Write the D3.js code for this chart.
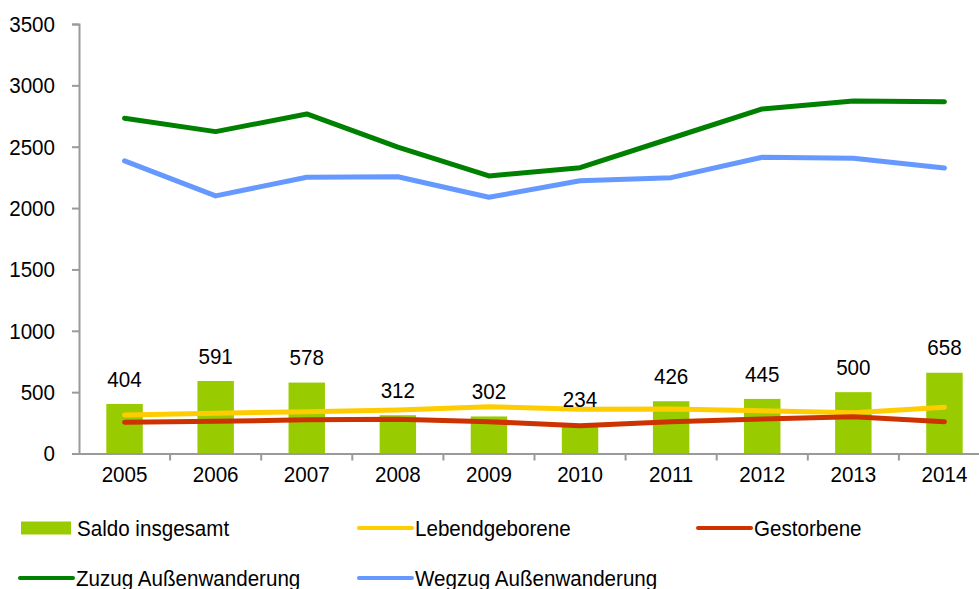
<!DOCTYPE html>
<html>
<head>
<meta charset="utf-8">
<script src="https://cdn.jsdelivr.net/npm/d3@7"></script>
<style>
  body { margin: 0; background: #fff; }
  svg { display: block; font-family: "Liberation Sans", Arial, sans-serif; }
  /* the source text is slightly taller than it is wide */
  svg text { transform-box: fill-box; transform-origin: center; transform: scaleY(1.1); }
</style>
</head>
<body>
<svg width="979" height="589"></svg>
<script>
// Data
const years = ["2005", "2006", "2007", "2008", "2009", "2010", "2011", "2012", "2013", "2014"];
const saldo = [404, 591, 578, 312, 302, 234, 426, 445, 500, 658];
const lebendgeborene = [314, 328, 341, 355, 381, 360, 363, 349, 333, 377];
const gestorbene = [254, 262, 275, 280, 259, 227, 259, 281, 300, 259];
const zuzug = [2732, 2623, 2767, 2496, 2262, 2329, 2569, 2808, 2873, 2867];
const wegzug = [2384, 2099, 2251, 2255, 2088, 2223, 2248, 2414, 2406, 2327];
const yTicks = [0, 500, 1000, 1500, 2000, 2500, 3000, 3500];

const lineSeries = [
    { name: "Lebendgeborene", values: lebendgeborene, color: "#ffcc00" },
    { name: "Gestorbene", values: gestorbene, color: "#cc3300" },
    { name: "Zuzug Außenwanderung", values: zuzug, color: "#008000" },
    { name: "Wegzug Außenwanderung", values: wegzug, color: "#6699ff" }
];

const svg = d3.select("svg");
const plotLeft = 79, plotRight = 990, plotTop = 24, plotBottom = 453.5;
const fontSize = 20.6;

const x = d3.scaleBand().domain(years).range([plotLeft, plotRight]).paddingInner(0).paddingOuter(0);
const y = d3.scaleLinear().domain([0, 3500]).range([plotBottom, plotTop]);
const cx = d => x(d) + x.bandwidth() / 2;

// bars
const barW = x.bandwidth() * 0.4;
svg.append("g").selectAll("rect")
    .data(years)
    .join("rect")
    .attr("x", d => cx(d) - barW / 2)
    .attr("y", (d, i) => y(saldo[i]))
    .attr("width", barW)
    .attr("height", (d, i) => plotBottom - y(saldo[i]))
    .attr("fill", "#99cc00");

// axes
const yAxis = svg.append("g")
    .attr("transform", `translate(${plotLeft},0)`)
    .call(d3.axisLeft(y).tickValues(yTicks).tickSize(7).tickPadding(17).tickFormat(d3.format("d")));
const xAxis = svg.append("g")
    .attr("transform", `translate(0,${plotBottom})`)
    .call(d3.axisBottom(x).tickSize(0).tickPadding(13));

// x tick marks sit between categories
xAxis.selectAll(".sep")
    .data(years.slice(1))
    .join("line")
    .attr("class", "sep")
    .attr("x1", d => x(d)).attr("x2", d => x(d))
    .attr("y1", 0).attr("y2", 7);

[yAxis, xAxis].forEach(a => {
    a.selectAll("path.domain").attr("stroke", "#9a9a9a").attr("stroke-width", 2);
    a.selectAll("line").attr("stroke", "#9a9a9a").attr("stroke-width", 2);
    a.selectAll("text").attr("font-size", fontSize).attr("fill", "#000")
        .attr("font-family", "'Liberation Sans', Arial, sans-serif");
});

// lines
const line = d3.line().x((v, i) => cx(years[i])).y(v => y(v));
svg.append("g").selectAll("path")
    .data(lineSeries)
    .join("path")
    .attr("d", s => line(s.values))
    .attr("fill", "none")
    .attr("stroke", s => s.color)
    .attr("stroke-width", 5)
    .attr("stroke-linejoin", "round")
    .attr("stroke-linecap", "round");

// labels over bars
svg.append("g").selectAll("text")
    .data(years)
    .join("text")
    .attr("x", d => cx(d))
    .attr("y", (d, i) => y(saldo[i]) - 18)
    .attr("text-anchor", "middle")
    .attr("font-size", fontSize)
    .text((d, i) => saldo[i]);

// legend
const legend = [
    { name: "Saldo insgesamt", type: "bar", color: "#99cc00", x: 21, y: 528 },
    { name: "Lebendgeborene", type: "line", color: "#ffcc00", x: 358, y: 528 },
    { name: "Gestorbene", type: "line", color: "#cc3300", x: 697, y: 528 },
    { name: "Zuzug Außenwanderung", type: "line", color: "#008000", x: 19, y: 578 },
    { name: "Wegzug Außenwanderung", type: "line", color: "#6699ff", x: 358, y: 578 }
];
const lg = svg.append("g").selectAll("g")
    .data(legend)
    .join("g")
    .attr("transform", d => `translate(${d.x},${d.y})`);
lg.filter(d => d.type === "bar").append("rect")
    .attr("x", 0).attr("y", -6.5).attr("width", 50).attr("height", 13)
    .attr("fill", d => d.color);
lg.filter(d => d.type === "line").append("line")
    .attr("x1", 1).attr("x2", 54).attr("y1", 0).attr("y2", 0)
    .attr("stroke", d => d.color).attr("stroke-width", 4).attr("stroke-linecap", "round");
lg.append("text")
    .attr("x", d => d.type === "bar" ? 56 : 57)
    .attr("y", 0)
    .attr("dy", "0.36em")
    .attr("font-size", fontSize)
    .text(d => d.name);
</script>
</body>
</html>
